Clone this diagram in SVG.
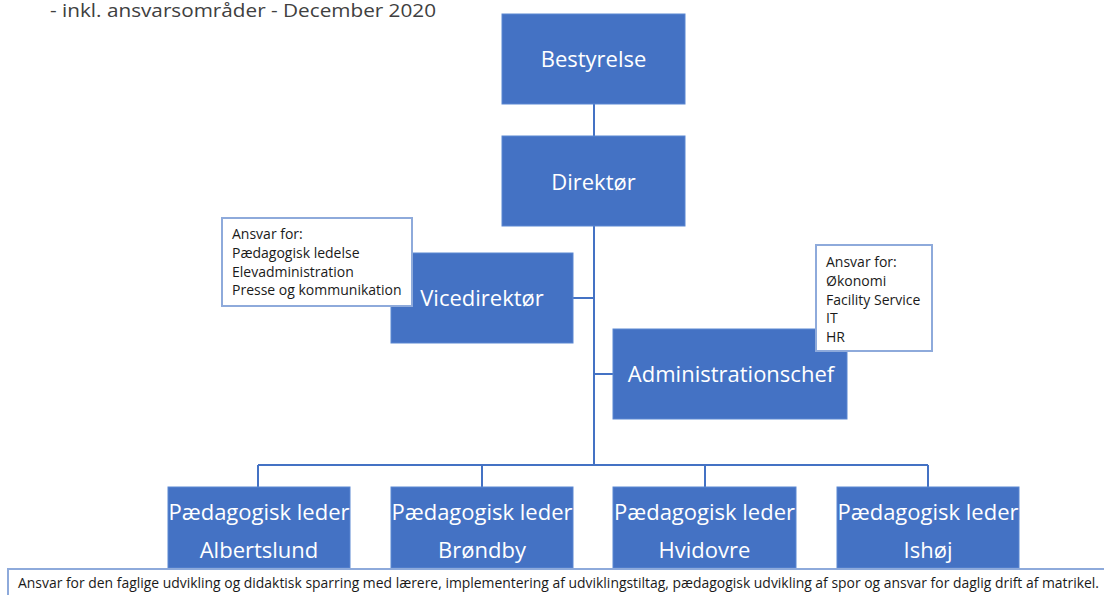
<svg xmlns="http://www.w3.org/2000/svg" width="1104" height="595" viewBox="0 0 1104 595">
<style>
.box{fill:#4472C4;stroke:#5B87D2;stroke-width:1}
.nt{font-family:"Open Sans","Liberation Sans",sans-serif;font-size:22px;fill:#ffffff;text-anchor:middle}
.note{fill:#ffffff;stroke:#8EAADB;stroke-width:2}
.st{font-family:"Open Sans","Liberation Sans",sans-serif;font-size:14px;fill:#1a1a1a}
.conn{stroke:#4472C4;stroke-width:2;fill:none}
</style>
<rect width="1104" height="595" fill="#ffffff"/>
<text x="50" y="17" font-family="'Open Sans','Liberation Sans',sans-serif" font-size="18" fill="#404040" textLength="386" lengthAdjust="spacingAndGlyphs">- inkl. ansvarsområder - December 2020</text>
<g id="connectors">
<path class="conn" d="M594,104 V136 M594,226 V465 M258,465 H928 M258,465 V487 M482,465 V487 M705,465 V487 M928,465 V487 M573,298 H594 M594,374 H613"/>
</g>
<g id="bestyrelse"><rect class="box" x="502" y="14" width="183" height="90"/><text class="nt" x="593.5" y="67">Bestyrelse</text></g>
<g id="direktor"><rect class="box" x="502" y="136" width="183" height="90"/><text class="nt" x="593.5" y="190">Direktør</text></g>
<g id="vicedirektor"><rect class="box" x="391" y="253" width="182" height="90"/><text class="nt" x="482" y="306">Vicedirektør</text></g>
<g id="administrationschef"><rect class="box" x="613" y="329" width="234" height="90"/><text class="nt" x="731" y="382">Administrationschef</text></g>
<g id="note-vice"><rect class="note" x="222" y="218" width="190" height="88"/>
<text class="st" x="232" y="239">Ansvar for:</text>
<text class="st" x="232" y="258">Pædagogisk ledelse</text>
<text class="st" x="232" y="277">Elevadministration</text>
<text class="st" x="232" y="295">Presse og kommunikation</text></g>
<g id="note-admin"><rect class="note" x="816" y="245" width="116" height="106"/>
<text class="st" x="826" y="267">Ansvar for:</text>
<text class="st" x="826" y="286">Økonomi</text>
<text class="st" x="826" y="305">Facility Service</text>
<text class="st" x="826" y="323">IT</text>
<text class="st" x="826" y="342">HR</text></g>
<g id="leder-albertslund"><rect class="box" x="168" y="487" width="182" height="81"/><text class="nt" x="259" y="520">Pædagogisk leder</text><text class="nt" x="259" y="558">Albertslund</text></g>
<g id="leder-brondby"><rect class="box" x="391" y="487" width="182" height="81"/><text class="nt" x="482" y="520">Pædagogisk leder</text><text class="nt" x="482" y="558">Brøndby</text></g>
<g id="leder-hvidovre"><rect class="box" x="613" y="487" width="183" height="81"/><text class="nt" x="704.5" y="520">Pædagogisk leder</text><text class="nt" x="704.5" y="558">Hvidovre</text></g>
<g id="leder-ishoj"><rect class="box" x="837" y="487" width="182" height="81"/><text class="nt" x="928" y="520">Pædagogisk leder</text><text class="nt" x="928" y="558">Ishøj</text></g>
<g id="note-leder"><rect class="note" x="8" y="569" width="1110" height="40"/>
<text class="st" x="18" y="588" textLength="1081" lengthAdjust="spacingAndGlyphs">Ansvar for den faglige udvikling og didaktisk sparring med lærere, implementering af udviklingstiltag, pædagogisk udvikling af spor og ansvar for daglig drift af matrikel.</text></g>
</svg>
